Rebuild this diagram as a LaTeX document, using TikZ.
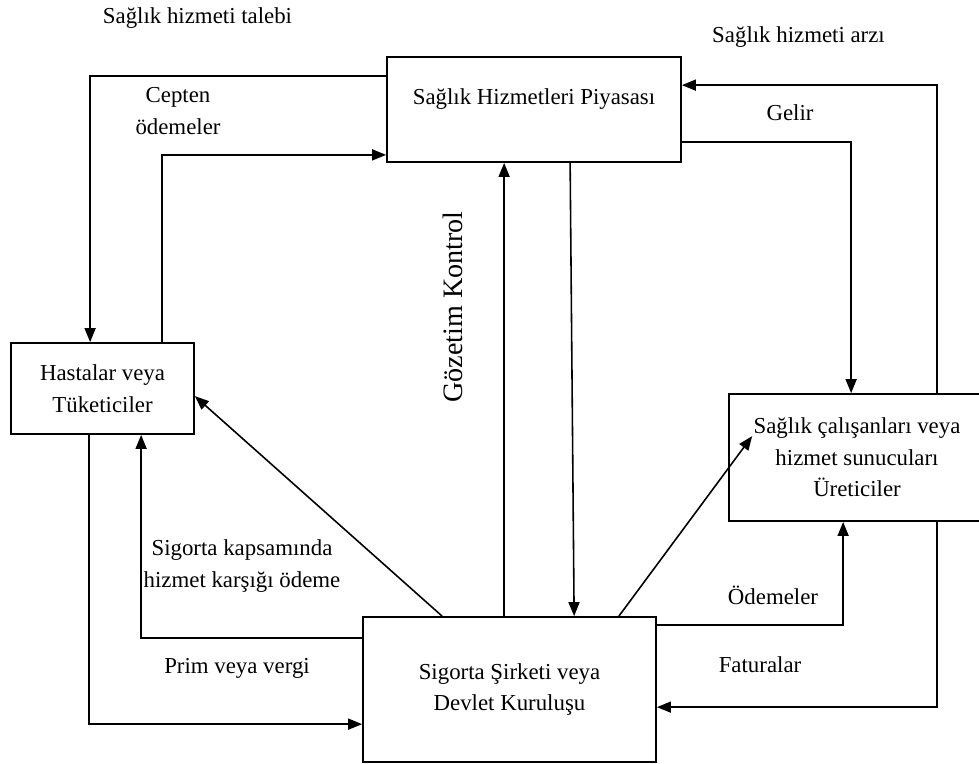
\documentclass[tikz,border=0pt]{standalone}
\usepackage{fontspec}
\setmainfont{Liberation Serif}
\usetikzlibrary{arrows.meta, positioning, calc}

\begin{document}
\begin{tikzpicture}[>={Triangle[length=0.28cm, width=0.22cm]},
    font=\fontsize{13}{18}\selectfont,
    box/.style={draw, line width=1pt, align=center, inner sep=0pt},
    flow/.style={->, line width=0.9pt},
    lbl/.style={align=center, inner sep=0pt}]

  \useasboundingbox (0,0) rectangle (19.58,-15.26);

  % boxes
  \node[box, minimum width=5.88cm, minimum height=2.1cm,
        text height=0.35cm, text depth=0.57cm]
        (market) at (10.68,-2.19) {Sağlık Hizmetleri Piyasası};

  \node[box, minimum width=3.66cm, minimum height=1.82cm]
        (patients) at (2.05,-7.77) {Hastalar veya\\Tüketiciler};

  \node[box, minimum width=5.12cm, minimum height=2.54cm]
        (providers) at (17.14,-9.15) {Sağlık çalışanları veya\\hizmet sunucuları\\Üreticiler};

  \node[box, minimum width=5.86cm, minimum height=2.9cm]
        (insurer) at (10.19,-13.79) {Sigorta Şirketi veya\\Devlet Kuruluşu};

  % labels
  \node[lbl] (demand) at (3.95,-0.36) {Sağlık hizmeti talebi};
  \node[lbl] (supply) at (15.97,-0.74) {Sağlık hizmeti arzı};
  \node[lbl] (pocket) at (3.56,-2.22) {Cepten\\ödemeler};
  \node[lbl] (income) at (15.8,-2.26) {Gelir};
  \node[lbl, rotate=90, font=\fontsize{16}{18}\selectfont]
        (control) at (9.06,-6.14) {Gözetim Kontrol};
  \node[lbl] (covered) at (4.84,-11.32) {Sigorta kapsamında\\hizmet karşığı ödeme};
  \node[lbl] (premium) at (4.74,-13.36) {Prim veya vergi};
  \node[lbl] (payments) at (15.46,-11.9) {Ödemeler};
  \node[lbl] (bills) at (15.2,-13.3) {Faturalar};

  % connectors
  \draw[flow] ([yshift=-0.4cm]market.north west) -| ([xshift=1.6cm]patients.north west);
  \draw[flow] ([xshift=3.04cm]patients.north west) |- ([yshift=0.16cm]market.south west);
  \draw[flow] ([xshift=4.18cm]providers.north west) |- ([yshift=-0.58cm]market.north east);
  \draw[flow] ([yshift=0.42cm]market.south east) -| ([xshift=2.46cm]providers.north west);
  \draw[flow] ([xshift=2.84cm]insurer.north west) coordinate (up) -- (up |- market.south);
  \draw[flow] ([xshift=3.68cm]market.south west) -- ([xshift=4.24cm]insurer.north west);
  \draw[flow] ([xshift=1.6cm]insurer.north west) -- ([yshift=-1.08cm]patients.north east);
  \draw[flow] ([xshift=-0.76cm]insurer.north east) -- ([shift={(0.48cm,-0.86cm)}]providers.north west);
  \draw[flow] ([yshift=-0.44cm]insurer.north west) -| ([xshift=2.62cm]patients.south west);
  \draw[flow] ([xshift=1.58cm]patients.south west) |- ([yshift=-2.16cm]insurer.north west);
  \draw[flow] ([yshift=-0.18cm]insurer.north east) -| ([xshift=2.3cm]providers.south west);
  \draw[flow] ([xshift=4.18cm]providers.south west) |- ([yshift=-1.82cm]insurer.north east);
\end{tikzpicture}
\end{document}
